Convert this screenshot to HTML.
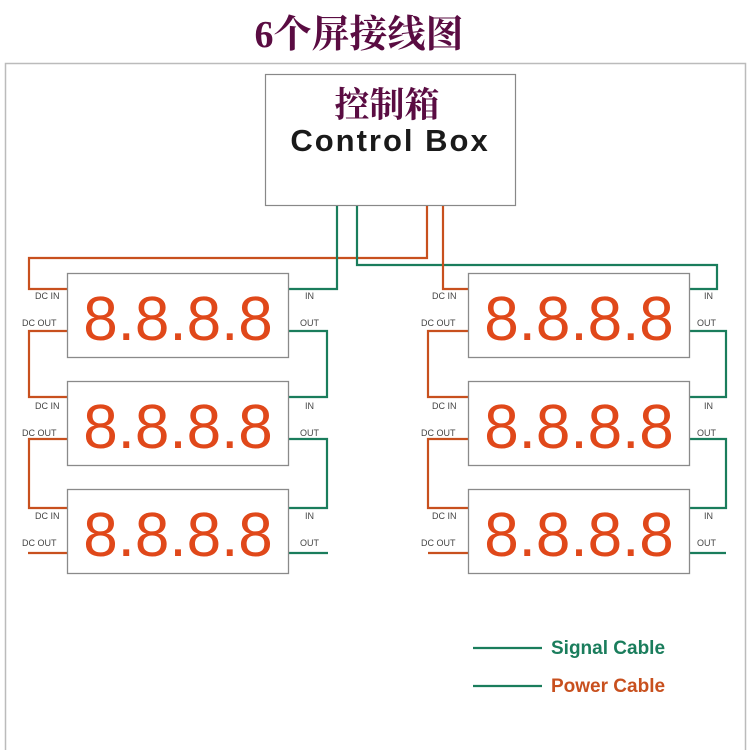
<!DOCTYPE html>
<html><head><meta charset="utf-8">
<style>
html,body{margin:0;padding:0;background:#fff;}
svg{display:block;}
</style></head>
<body>
<svg width="750" height="750" viewBox="0 0 750 750" xmlns="http://www.w3.org/2000/svg">
<rect x="0" y="0" width="750" height="750" fill="#fff"/>
<text x="359" y="47" text-anchor="middle" font-family="Liberation Serif, Noto Serif CJK SC, serif" font-weight="bold" font-size="38" fill="#5a0c42">6个屏接线图</text>
<rect x="5.5" y="63.5" width="740" height="700" fill="none" stroke="#bbb" stroke-width="1.5"/>
<rect x="265.5" y="74.5" width="250" height="131" fill="#fff" stroke="#888" stroke-width="1.2"/>
<text x="387" y="117" text-anchor="middle" font-family="Noto Serif CJK SC, serif" font-weight="bold" font-size="35" fill="#5a0c42">控制箱</text>
<text x="390" y="151" text-anchor="middle" font-family="Liberation Sans, sans-serif" font-weight="bold" font-size="31" fill="#1a1a1a" letter-spacing="2">Control Box</text>

<g fill="none" stroke-width="2.2">
<polyline points="427,206 427,258 29,258 29,289 67,289" stroke="#c8501e"/>
<polyline points="337,206 337,289 288,289" stroke="#1a7d5c"/>
<polyline points="357,206 357,265 717,265 717,289 689,289" stroke="#1a7d5c"/>
<polyline points="443,206 443,289 468,289" stroke="#c8501e"/>
<polyline points="67,331 29,331 29,397 67,397" stroke="#c8501e"/>
<polyline points="67,439 29,439 29,508 67,508" stroke="#c8501e"/>
<polyline points="67,553 28,553" stroke="#c8501e"/>
<polyline points="288,331 327,331 327,397 288,397" stroke="#1a7d5c"/>
<polyline points="288,439 327,439 327,508 288,508" stroke="#1a7d5c"/>
<polyline points="288,553 328,553" stroke="#1a7d5c"/>
<polyline points="468,331 428,331 428,397 468,397" stroke="#c8501e"/>
<polyline points="468,439 428,439 428,508 468,508" stroke="#c8501e"/>
<polyline points="468,553 428,553" stroke="#c8501e"/>
<polyline points="689,331 726,331 726,397 689,397" stroke="#1a7d5c"/>
<polyline points="689,439 726,439 726,508 689,508" stroke="#1a7d5c"/>
<polyline points="689,553 726,553" stroke="#1a7d5c"/>
<line x1="473" y1="648" x2="542" y2="648" stroke="#1a7d5c"/>
<line x1="473" y1="686" x2="542" y2="686" stroke="#1a7d5c"/>
</g>

<g font-family="Liberation Sans, sans-serif" font-size="9" fill="#444">
<text x="35" y="299">DC IN</text><text x="22" y="326">DC OUT</text>
<text x="305" y="299">IN</text><text x="300" y="326">OUT</text>
<text x="35" y="409">DC IN</text><text x="22" y="436">DC OUT</text>
<text x="305" y="409">IN</text><text x="300" y="436">OUT</text>
<text x="35" y="519">DC IN</text><text x="22" y="546">DC OUT</text>
<text x="305" y="519">IN</text><text x="300" y="546">OUT</text>
<text x="432" y="299">DC IN</text><text x="421" y="326">DC OUT</text>
<text x="704" y="299">IN</text><text x="697" y="326">OUT</text>
<text x="432" y="409">DC IN</text><text x="421" y="436">DC OUT</text>
<text x="704" y="409">IN</text><text x="697" y="436">OUT</text>
<text x="432" y="519">DC IN</text><text x="421" y="546">DC OUT</text>
<text x="704" y="519">IN</text><text x="697" y="546">OUT</text>
</g>

<g fill="#fff" stroke="#8a8a8a" stroke-width="1.3">
<rect x="67.5" y="273.5" width="221" height="84"/>
<rect x="67.5" y="381.5" width="221" height="84"/>
<rect x="67.5" y="489.5" width="221" height="84"/>
<rect x="468.5" y="273.5" width="221" height="84"/>
<rect x="468.5" y="381.5" width="221" height="84"/>
<rect x="468.5" y="489.5" width="221" height="84"/>
</g>

<g font-family="Liberation Sans, sans-serif" font-size="62" fill="#e0481a" text-anchor="middle">
<text x="178" y="340">8.8.8.8</text>
<text x="178" y="448">8.8.8.8</text>
<text x="178" y="556">8.8.8.8</text>
<text x="579" y="340">8.8.8.8</text>
<text x="579" y="448">8.8.8.8</text>
<text x="579" y="556">8.8.8.8</text>
</g>

<text x="551" y="654" font-family="Liberation Sans, sans-serif" font-weight="bold" font-size="19" fill="#1a7d5c">Signal Cable</text>
<text x="551" y="692" font-family="Liberation Sans, sans-serif" font-weight="bold" font-size="19" fill="#c8501e">Power Cable</text>
</svg>
</body></html>
